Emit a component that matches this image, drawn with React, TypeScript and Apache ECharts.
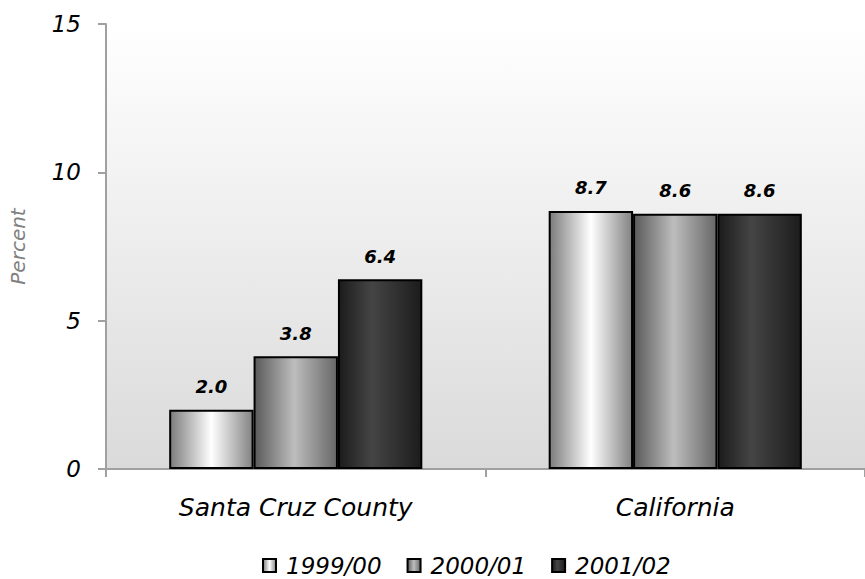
import React, { useEffect, useRef } from "react";
import * as echarts from "echarts";

const categories = ["Santa Cruz County", "California"];
const seriesNames = ["1999/00", "2000/01", "2001/02"];
const values1999 = [2.0, 8.7];
const values2000 = [3.8, 8.6];
const values2001 = [6.4, 8.6];
const yTicks = { min: 0, max: 15, interval: 5 };

const FONT = "DejaVu Sans";

function grad(stops: [number, string][]) {
  return new echarts.graphic.LinearGradient(
    0, 0, 1, 0,
    stops.map(([offset, color]) => ({ offset, color }))
  );
}

const barFills = [
  grad([[0, "#7c7c7c"], [0.5, "#ffffff"], [1, "#838383"]]),
  grad([[0, "#5a5a5a"], [0.48, "#bdbdbd"], [1, "#676767"]]),
  grad([[0, "#1b1b1b"], [0.4, "#454545"], [1, "#1c1c1c"]]),
];

export default function App() {
  const ref = useRef<HTMLDivElement>(null);
  useEffect(() => {
    document.body.style.margin = "0";
    if (!ref.current) return;
    const chart = echarts.init(ref.current, undefined, { renderer: "svg" });
    const data = [values1999, values2000, values2001];
    chart.setOption({
      animation: false,
      backgroundColor: "#ffffff",
      textStyle: { fontFamily: FONT },
      grid: {
        left: 100,
        top: 24,
        width: 768,
        bottom: 110,
        show: true,
        borderWidth: 0,
        backgroundColor: new echarts.graphic.LinearGradient(0, 0, 0, 1, [
          { offset: 0, color: "#ffffff" },
          { offset: 1, color: "#dadada" },
        ]),
      },
      legend: {
        left: 257,
        top: 549,
        icon: "rect",
        itemWidth: 13,
        itemHeight: 13,
        itemGap: 25,
        textStyle: {
          fontFamily: FONT,
          fontStyle: "italic",
          fontSize: 23,
          color: "#000",
          padding: [0, 0, 0, 5],
        },
        data: seriesNames,
      },
      xAxis: {
        type: "category",
        data: categories,
        axisLine: { lineStyle: { color: "#a0a0a0", width: 2 } },
        axisTick: { show: true, length: 8, lineStyle: { color: "#a0a0a0", width: 2 } },
        axisLabel: {
          margin: 26,
          fontFamily: FONT,
          fontStyle: "italic",
          fontSize: 25,
          color: "#000",
        },
      },
      yAxis: {
        type: "value",
        min: yTicks.min,
        max: yTicks.max,
        interval: yTicks.interval,
        name: "Percent",
        nameLocation: "middle",
        nameGap: 78,
        nameTextStyle: { fontFamily: FONT, fontStyle: "italic", fontSize: 20, color: "#808080" },
        axisLine: { show: true, lineStyle: { color: "#a0a0a0", width: 2 } },
        axisTick: { show: true, length: 8, lineStyle: { color: "#a0a0a0", width: 2 } },
        splitLine: { show: false },
        axisLabel: {
          margin: 25,
          fontFamily: FONT,
          fontStyle: "italic",
          fontSize: 23,
          color: "#000",
        },
      },
      series: seriesNames.map((name, i) => ({
        name,
        type: "bar",
        data: data[i],
        barGap: "0%",
        barCategoryGap: "33.3%",
        itemStyle: { color: barFills[i], borderColor: "#000", borderWidth: 2 },
        label: {
          show: true,
          position: "top",
          distance: 14,
          fontFamily: FONT,
          fontStyle: "italic",
          fontWeight: "bold",
          fontSize: 18,
          color: "#000",
          formatter: (p: any) => Number(p.value).toFixed(1),
        },
      })),
    });
    return () => chart.dispose();
  }, []);
  return <div ref={ref} style={{ width: 865, height: 579 }} />;
}
